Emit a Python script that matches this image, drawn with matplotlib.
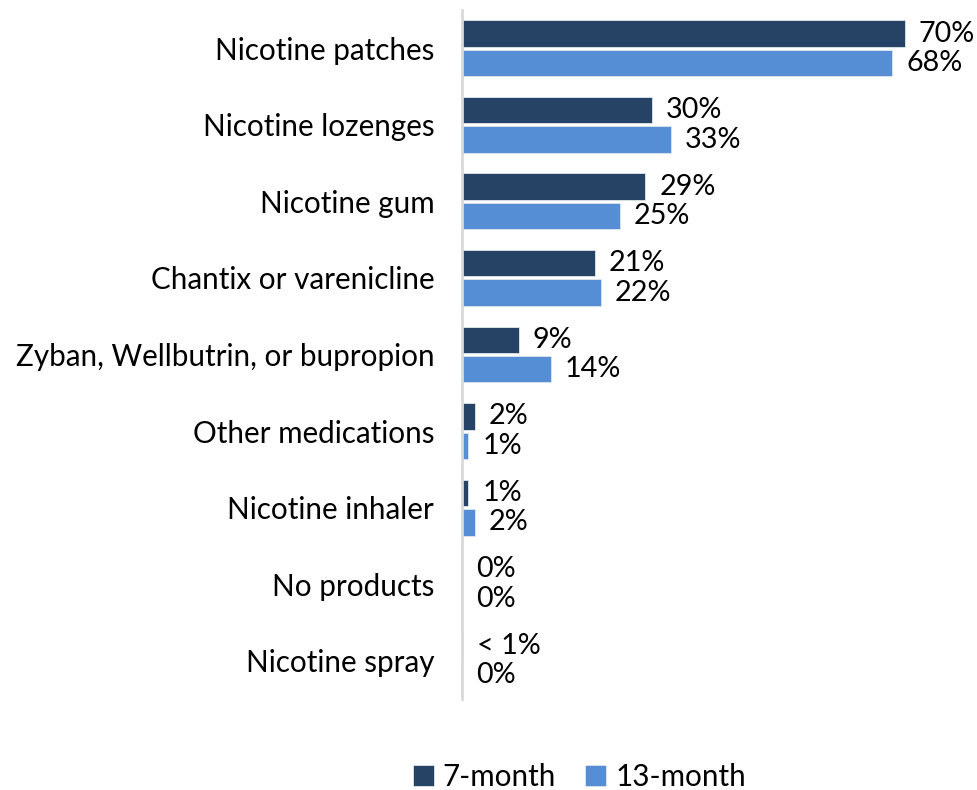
import matplotlib.pyplot as plt
import numpy as np

plt.rcParams['font.family'] = ['Lato', 'DejaVu Sans']

categories = [
    "Nicotine patches",
    "Nicotine lozenges",
    "Nicotine gum",
    "Chantix or varenicline",
    "Zyban, Wellbutrin, or bupropion",
    "Other medications",
    "Nicotine inhaler",
    "No products",
    "Nicotine spray",
]
month7 = [70, 30, 29, 21, 9, 2, 1, 0, 0.2]
month13 = [68, 33, 25, 22, 14, 1, 2, 0, 0]
labels7 = ["70%", "30%", "29%", "21%", "9%", "2%", "1%", "0%", "< 1%"]
labels13 = ["68%", "33%", "25%", "22%", "14%", "1%", "2%", "0%", "0%"]

dark = "#264264"
light = "#558ed5"

fig = plt.figure(figsize=(9.77, 7.90), dpi=100)
ax = fig.add_axes([0.4729, 0.1152, 0.5179, 0.8721])

y = np.arange(len(categories))
h = 0.345
gap = 0.02
b7 = ax.barh(y - h / 2 - gap, month7, height=h, color=dark,
             edgecolor="#dfe6ee", linewidth=0.6)
b13 = ax.barh(y + h / 2 + gap, month13, height=h, color=light,
              edgecolor="#dfe6ee", linewidth=0.6)

for bars, labs in ((b7, labels7), (b13, labels13)):
    for bar, lab in zip(bars, labs):
        ax.annotate(lab, (bar.get_width(), bar.get_y() + bar.get_height() / 2),
                    xytext=(10, 0), textcoords="offset points",
                    va="center", ha="left", fontsize=20.7, color="black")

ax.set_xlim(0, 80)
ax.set_ylim(len(categories) - 0.5, -0.5)
ax.set_yticks(y)
ax.set_yticklabels(categories, fontsize=21.3)
ax.tick_params(axis="y", length=0, pad=20)
ax.set_xticks([])
for side in ("top", "right", "bottom"):
    ax.spines[side].set_visible(False)
ax.spines["left"].set_color("#d9d9d9")
ax.spines["left"].set_linewidth(2)

fig.legend([b7, b13], ["7-month", "13-month"], loc="center",
           bbox_to_anchor=(0.593, 0.017), ncol=2, frameon=False,
           fontsize=21.3, handlelength=0.7, handleheight=0.7,
           handletextpad=0.3, columnspacing=1.0)

fig.savefig("out.png", dpi=100)
